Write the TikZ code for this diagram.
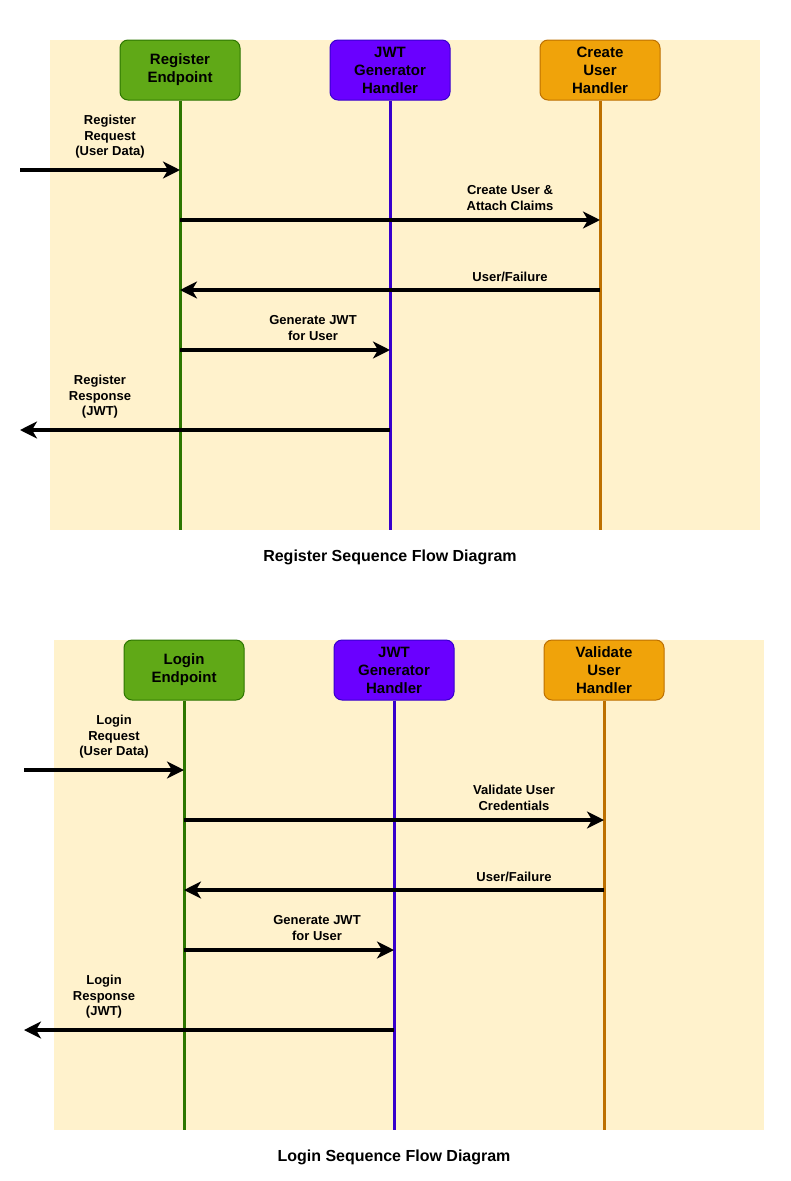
\documentclass[tikz,border=0pt]{standalone}
\usepackage{fontspec}
\setmainfont{Liberation Sans}
\usepackage{xcolor}
\usetikzlibrary{arrows.meta,positioning}
\definecolor{lanefill}{HTML}{FFF2CC}
\definecolor{epfill}{HTML}{60A917}
\definecolor{epline}{HTML}{2D7600}
\definecolor{jwtfill}{HTML}{6A00FF}
\definecolor{jwtline}{HTML}{3700CC}
\definecolor{hdfill}{HTML}{F0A30A}
\definecolor{hdline}{HTML}{BD7000}
\begin{document}
\begin{tikzpicture}[x=1pt, y=-1pt,
            lane/.style={fill=lanefill, rectangle, minimum width=710pt, minimum height=490pt, inner sep=0pt},
            actor/.style={draw, rectangle, rounded corners=8pt, line width=1pt, minimum width=120pt,
                 minimum height=60pt, inner sep=0pt, align=center, font=\fontsize{15}{18}\selectfont\bfseries},
            life/.style={line width=3pt},
            msg/.style={line width=4pt, -{Stealth[length=17pt, width=17pt, inset=5pt]}},
            lbl/.style={align=center, inner sep=0pt, font=\fontsize{13}{15.5}\selectfont\bfseries},
            caption/.style={inner sep=0pt, font=\fontsize{16}{19}\selectfont\bfseries}
            ]
            \useasboundingbox (0,0) rectangle (791,1181);

            % Register diagram
            \node[lane] (rbg) at (405,285) {};
            \node[actor, fill=epfill, draw=epline] (rep) at (180,70) {Register\\Endpoint};
            \node[actor, fill=jwtfill, draw=jwtline] (rjwt) at (390,70) {JWT\\Generator\\Handler};
            \node[actor, fill=hdfill, draw=hdline] (rcu) at (600,70) {Create\\User\\Handler};

            \draw[life, epline] (rep.south) -- (rep.south |- rbg.south);
            \draw[life, jwtline] (rjwt.south) -- (rjwt.south |- rbg.south);
            \draw[life, hdline] (rcu.south) -- (rcu.south |- rbg.south);

            \coordinate (rin) at (20,170);
            \coordinate (rm2) at (0,220);
            \coordinate (rm3) at (0,290);
            \coordinate (rm4) at (0,350);
            \coordinate (rout) at (20,430);

            \node[lbl] (rl1) at (110,137) {Register\\Request\\(User Data)};
            \node[lbl] (rl2) at (510,198) {Create User \&\\Attach Claims};
            \node[lbl] (rl3) at (510,277) {User/Failure};
            \node[lbl] (rl4) at (313,328) {Generate JWT\\for User};
            \node[lbl] (rl5) at (100,397) {Register\\Response\\(JWT)};

            \draw[msg] (rin) -- (rep |- rin);
            \draw[msg] (rep |- rm2) -- (rcu |- rm2);
            \draw[msg] (rcu |- rm3) -- (rep |- rm3);
            \draw[msg] (rep |- rm4) -- (rjwt |- rm4);
            \draw[msg] (rjwt |- rout) -- (rout);

            \node[caption] (rtitle) at (390,557) {Register Sequence Flow Diagram};

            % Login diagram
            \node[lane] (lbg) at (409,885) {};
            \node[actor, fill=epfill, draw=epline] (lep) at (184,670) {Login\\Endpoint};
            \node[actor, fill=jwtfill, draw=jwtline] (ljwt) at (394,670) {JWT\\Generator\\Handler};
            \node[actor, fill=hdfill, draw=hdline] (lvu) at (604,670) {Validate\\User\\Handler};

            \draw[life, epline] (lep.south) -- (lep.south |- lbg.south);
            \draw[life, jwtline] (ljwt.south) -- (ljwt.south |- lbg.south);
            \draw[life, hdline] (lvu.south) -- (lvu.south |- lbg.south);

            \coordinate (lin) at (24,770);
            \coordinate (lm2) at (0,820);
            \coordinate (lm3) at (0,890);
            \coordinate (lm4) at (0,950);
            \coordinate (lout) at (24,1030);

            \node[lbl] (ll1) at (114,737) {Login\\Request\\(User Data)};
            \node[lbl] (ll2) at (514,798) {Validate User\\Credentials};
            \node[lbl] (ll3) at (514,877) {User/Failure};
            \node[lbl] (ll4) at (317,928) {Generate JWT\\for User};
            \node[lbl] (ll5) at (104,997) {Login\\Response\\(JWT)};

            \draw[msg] (lin) -- (lep |- lin);
            \draw[msg] (lep |- lm2) -- (lvu |- lm2);
            \draw[msg] (lvu |- lm3) -- (lep |- lm3);
            \draw[msg] (lep |- lm4) -- (ljwt |- lm4);
            \draw[msg] (ljwt |- lout) -- (lout);

            \node[caption] (ltitle) at (394,1157) {Login Sequence Flow Diagram};
        \end{tikzpicture}
\end{document}
